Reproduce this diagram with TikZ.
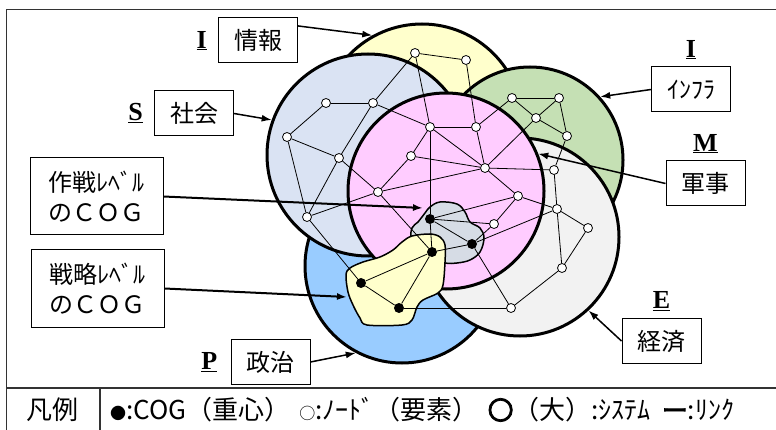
\documentclass[tikz,border=0pt]{standalone}
\usepackage{fontspec}
\newfontfamily\jpfont{Noto Sans CJK JP}
\newfontfamily\jpbold[FakeBold=3]{Noto Sans CJK JP}
\newfontfamily\lettfont{Liberation Serif}
\usetikzlibrary{positioning,arrows.meta}
\definecolor{infoYel}{RGB}{255,255,204}
\definecolor{socBlue}{RGB}{218,227,243}
\definecolor{milPink}{RGB}{255,204,255}
\definecolor{infGreen}{RGB}{197,224,180}
\definecolor{ecoGray}{RGB}{242,242,242}
\definecolor{polBlue}{RGB}{153,204,255}
\definecolor{opGray}{RGB}{214,220,229}
\newcommand{\smallmark}[1]{{\fontsize{16}{16}\selectfont #1}}

\begin{document}
\begin{tikzpicture}[x=1pt,y=-1pt,node distance=8pt,>={Latex[length=10pt,width=7pt]},
   sys/.style={circle,draw,line width=3pt,minimum size=#1,inner sep=0pt},
   nd/.style={circle,draw,fill=white,line width=0.8pt,minimum size=9pt,inner sep=0pt},
   cog/.style={circle,fill=black,minimum size=10pt,inner sep=0pt},
   link/.style={line width=0.8pt},
   blob/.style={draw,line width=1.5pt},
   lbl/.style={draw,line width=1pt,font=\jpfont\fontsize{24}{30}\selectfont,
               minimum width=79pt,minimum height=45pt,inner sep=0pt},
   cogbox/.style={lbl,minimum width=133pt,minimum height=77pt,align=left},
   lett/.style={font=\lettfont\bfseries\fontsize{26}{28}\selectfont,inner sep=1pt},
   arr/.style={->,line width=1.5pt},
   frame/.style={line width=1.5pt,black!80}]
   \useasboundingbox (0,0) rectangle (776,430);

   % systems, back to front
   \node[sys=202pt,fill=infoYel]  (cI) at (422,125) {};
   \node[sys=186pt,fill=infGreen] (cG) at (530,160) {};
   \node[sys=194pt,fill=polBlue]  (cP) at (402,266) {};
   \node[sys=198pt,fill=ecoGray]  (cE) at (520,237) {};
   \node[sys=202pt,fill=socBlue]  (cS) at (368,155) {};
   \node[sys=196pt,fill=milPink]  (cM) at (446,191) {};

   % centres of gravity
   \draw[blob,fill=opGray] plot[smooth cycle,tension=0.6] coordinates {
      (412,228) (418,222) (425,213) (430,207) (440,202) (457,204) (465,212)
      (470,222) (480,228) (484,238) (480,252) (470,260) (457,263) (445,263)
      (425,258) (412,240)};
   \draw[blob,fill=infoYel] plot[smooth cycle,tension=0.55] coordinates {
      (402,242) (412,236) (430,234) (440,237) (445,245) (445,262) (443,285)
      (438,293) (423,300) (417,307) (412,320) (402,325) (367,325) (360,318)
      (353,305) (348,292) (346,275) (350,268) (363,262) (380,257) (393,250)};

   % nodes
   \node[nd] (i1) at (415,53) {};
   \node[nd] (i2) at (466,60) {};
   \node[nd] (s1) at (326,103) {};
   \node[nd] (s2) at (373,103) {};
   \node[nd] (s3) at (287,137) {};
   \node[nd] (s4) at (339,158) {};
   \node[nd] (s5) at (307,217) {};
   \node[nd] (m1) at (430,127) {};
   \node[nd] (m2) at (476,127) {};
   \node[nd] (m3) at (411,156) {};
   \node[nd] (m4) at (485,168) {};
   \node[nd] (m5) at (378,192) {};
   \node[nd] (m6) at (518,196) {};
   \node[nd] (m7) at (494,224) {};
   \node[nd] (g1) at (512,98) {};
   \node[nd] (g2) at (559,98) {};
   \node[nd] (g3) at (536,118) {};
   \node[nd] (g4) at (567,136) {};
   \node[nd] (e1) at (554,170) {};
   \node[nd] (e2) at (557,209) {};
   \node[nd] (e3) at (588,228) {};
   \node[nd] (e4) at (562,268) {};
   \node[nd] (e5) at (511,308) {};
   \node[cog] (c1) at (430,219) {};
   \node[cog] (c2) at (472,244) {};
   \node[cog] (c3) at (432,252) {};
   \node[cog] (c4) at (361,283) {};
   \node[cog] (c5) at (399,308) {};

   \path[link]
    (s1) edge (s2) (s1) edge (s3) (s3) edge (s4) (s3) edge (s5)
    (s2) edge (s4) (s4) edge (s5) (s4) edge (m5) (s5) edge (m5)
    (s5) edge (c4) (s2) edge (i1) (s2) edge (m1)
    (i1) edge (i2) (i1) edge (m1) (i2) edge (m2)
    (m1) edge (m2) (m1) edge (m3) (m1) edge (m4) (m2) edge (m4)
    (m2) edge (g1) (m3) edge (m4) (m3) edge (m5) (m5) edge (m4)
    (m4) edge (g3) (m4) edge (e1) (m4) edge (m6) (m6) edge (m7)
    (m6) edge (e2) (m5) edge (c3) (m1) edge (c1)
    (g1) edge (g2) (g1) edge (g3) (g2) edge (g3) (g2) edge (g4)
    (g3) edge (g4) (g4) edge (e1)
    (e1) edge (e2) (e2) edge (e3) (e2) edge (e4) (e3) edge (e4)
    (e4) edge (e5) (e5) edge (c5) (e5) edge (c2)
    (c1) edge (c3) (c1) edge (c2) (c1) edge (m6) (c1) edge (m7)
    (c3) edge (c2) (c2) edge (m7) (c2) edge (e2)
    (c3) edge (c4) (c3) edge (c5) (c4) edge (c5);

   % labels
   \node[lbl] (infoBox) at (258,40.5) {情報};
   \node[lbl] (socBox) at (194,113.5) {社会};
   \node[lbl] (polBox) at (270.5,362) {政治};
   \node[lbl] (infBox) at (691,89.5) {ｲﾝﾌﾗ};
   \node[lbl] (milBox) at (705.5,183.5) {軍事};
   \node[lbl] (ecoBox) at (661.5,341) {経済};
   \node[cogbox] (opBox) at (96.5,196.5) {作戦ﾚﾍﾞﾙ\\のＣＯＧ};
   \node[cogbox] (stBox) at (97.5,288.5) {戦略ﾚﾍﾞﾙ\\のＣＯＧ};

   \node[lett,left=10pt of infoBox] (lI) {\underline{I}};
   \node[lett,left=10pt of socBox] (lS) {\underline{S}};
   \node[lett,left=12pt of polBox] (lP) {\underline{P}};
   \node[lett,above=6pt of infBox] (lN) {\underline{I}};
   \node[lett,above=6pt of milBox] (lM) {\underline{M}};
   \node[lett,above=6pt of ecoBox] (lE) {\underline{E}};

   \coordinate (opTip) at (423,208);
   \coordinate (stTip) at (347,297);
   \draw[arr] (infoBox.20) -- (cI.119);
   \draw[arr] (socBox.east) -- (cS.160);
   \draw[arr] (polBox.east) -- (cP.-118);
   \draw[arr] (infBox.west) -- (cG.42);
   \draw[arr] (milBox.west) -- (cM.22);
   \draw[arr] (ecoBox.west) -- (cE.-47);
   \draw[arr,line width=2pt] (opBox.east) -- (opTip);
   \draw[arr,line width=2pt] (stBox.east) -- (stTip);

   % frame and legend
   \draw[frame] (776,9.5) -- (6.5,9.5) -- (6.5,430);
   \draw[frame] (6.5,388) -- (776,388);
   \draw[frame] (100,388) -- (100,430);
   \node[font=\jpfont\fontsize{26}{28}\selectfont] (lgdHead) at (53,410) {凡例};
   \node[font=\jpfont\fontsize{26}{28}\selectfont,anchor=west,inner sep=0pt] (lgdBody) at (110,410)
      {\smallmark{●}:COG（重心）\hspace{9pt}\smallmark{○}:ﾉｰﾄﾞ（要素）\hspace{9pt}{\jpbold 〇}（大）:ｼｽﾃﾑ\hspace{11pt}{\jpbold ー}:ﾘﾝｸ};
\end{tikzpicture}
\end{document}
